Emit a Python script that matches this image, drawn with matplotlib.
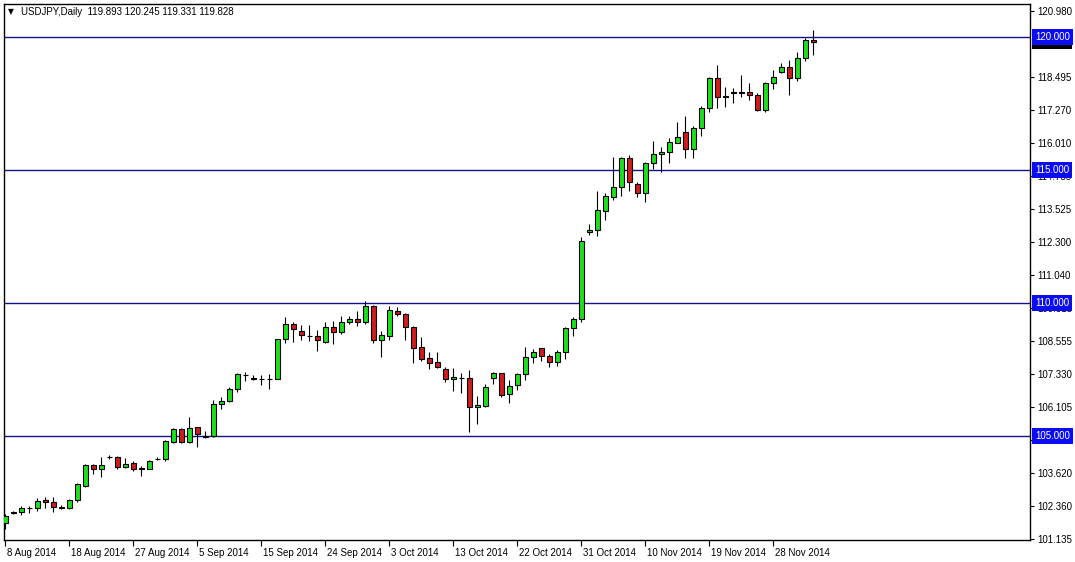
"""MT4-style daily candlestick chart of USDJPY with round-number levels."""

import matplotlib

matplotlib.use("Agg")
import matplotlib.pyplot as plt
from matplotlib.patches import Rectangle
from matplotlib.transforms import ScaledTranslation

symbol_title = "USDJPY,Daily"
last_ohlc = "119.893 120.245 119.331 119.828"

# daily OHLC, one bar per trading day (Sunday bars included)
opens = [
    101.74, 102.12, 102.13, 102.30, 102.28, 102.59, 102.51, 102.31, 102.28, 102.59,
    103.13, 103.90, 103.75, 104.20, 104.20, 103.85, 103.97, 103.77, 103.77, 104.12,
    104.15, 104.79, 105.25, 104.79, 105.33, 104.96, 105.00, 106.19, 106.33, 106.75,
    107.29, 107.16, 107.13, 107.15, 107.16, 108.63, 109.20, 108.96, 108.75, 108.75,
    108.55, 109.11, 108.90, 109.27, 109.39, 109.30, 109.89, 108.61, 108.77, 109.69,
    109.57, 109.09, 108.33, 107.92, 107.78, 107.51, 107.13, 107.19, 107.17, 106.08,
    106.14, 107.17, 107.36, 106.57, 106.90, 107.32, 107.96, 108.30, 108.01, 107.77,
    108.15, 109.05, 109.39, 112.66, 112.74, 113.47, 114.00, 114.37, 115.44, 114.47,
    114.12, 115.25, 115.59, 115.66, 116.03, 116.41, 115.78, 116.57, 117.32, 118.45,
    117.74, 117.89, 117.88, 117.93, 117.81, 117.26, 118.26, 118.70, 118.86, 118.45,
    119.20, 119.893,
]
highs = [
    102.05, 102.18, 102.37, 102.37, 102.66, 102.70, 102.70, 102.42, 102.63, 103.22,
    103.95, 103.93, 104.20, 104.27, 104.25, 104.16, 104.06, 103.87, 104.10, 104.20,
    104.85, 105.29, 105.29, 105.70, 105.35, 105.20, 106.35, 106.45, 106.85, 107.36,
    107.41, 107.29, 107.29, 107.33, 108.66, 109.49, 109.27, 109.17, 109.17, 108.99,
    109.30, 109.34, 109.51, 109.51, 109.71, 110.08, 109.94, 108.95, 109.90, 109.84,
    109.64, 109.14, 108.71, 108.17, 108.16, 107.58, 107.54, 107.38, 107.48, 106.50,
    106.96, 107.42, 107.38, 107.11, 107.36, 108.33, 108.27, 108.32, 108.08, 108.23,
    109.11, 109.46, 112.47, 112.97, 114.22, 114.15, 115.50, 115.50, 115.56, 114.56,
    115.29, 116.10, 115.86, 116.19, 116.82, 117.03, 116.65, 117.41, 118.48, 118.95,
    118.11, 118.07, 118.57, 118.26, 117.88, 118.32, 118.76, 119.03, 119.13, 119.42,
    119.95, 120.245,
]
lows = [
    101.49, 102.07, 102.03, 102.09, 102.19, 102.28, 102.13, 102.24, 102.25, 102.51,
    103.09, 103.57, 103.47, 104.12, 103.75, 103.81, 103.68, 103.51, 103.75, 104.10,
    104.07, 104.75, 104.72, 104.75, 104.60, 104.91, 104.97, 106.00, 106.28, 106.67,
    107.08, 107.11, 106.92, 106.78, 107.13, 108.48, 108.55, 108.61, 108.58, 108.21,
    108.48, 108.45, 108.83, 109.20, 109.14, 109.20, 108.51, 107.98, 108.61, 109.51,
    108.61, 107.73, 107.81, 107.51, 107.54, 107.04, 106.70, 106.60, 105.16, 105.45,
    106.10, 106.96, 106.48, 106.23, 106.73, 107.11, 107.76, 107.83, 107.58, 107.64,
    107.90, 108.77, 109.30, 112.56, 112.53, 113.12, 113.87, 114.02, 114.22, 114.00,
    113.81, 115.03, 114.93, 115.28, 116.00, 115.44, 115.44, 116.28, 117.19, 117.32,
    117.36, 117.53, 117.76, 117.63, 117.23, 117.19, 118.05, 118.63, 117.82, 118.36,
    119.11, 119.331,
]
closes = [
    101.99, 102.16, 102.28, 102.31, 102.57, 102.51, 102.32, 102.33, 102.59, 103.18,
    103.90, 103.75, 103.90, 104.22, 103.85, 103.93, 103.75, 103.80, 104.05, 104.15,
    104.80, 105.25, 104.79, 105.31, 105.06, 104.99, 106.20, 106.30, 106.75, 107.32,
    107.30, 107.18, 107.16, 107.16, 108.63, 109.20, 109.01, 108.78, 108.77, 108.60,
    109.11, 108.90, 109.27, 109.39, 109.27, 109.89, 108.61, 108.78, 109.74, 109.57,
    109.09, 108.32, 107.91, 107.76, 107.61, 107.13, 107.21, 107.17, 106.08, 106.17,
    106.83, 107.36, 106.54, 106.89, 107.32, 107.96, 108.15, 108.01, 107.80, 108.15,
    109.05, 109.39, 112.33, 112.74, 113.50, 114.02, 114.37, 115.44, 114.56, 114.12,
    115.25, 115.59, 115.67, 116.04, 116.23, 115.78, 116.57, 117.32, 118.45, 117.76,
    117.77, 117.92, 117.95, 117.81, 117.26, 118.26, 118.51, 118.86, 118.45, 119.20,
    119.89, 119.828,
]

date_labels = [
    "8 Aug 2014", "18 Aug 2014", "27 Aug 2014", "5 Sep 2014", "15 Sep 2014",
    "24 Sep 2014", "3 Oct 2014", "13 Oct 2014", "22 Oct 2014", "31 Oct 2014",
    "10 Nov 2014", "19 Nov 2014", "28 Nov 2014",
]
date_label_step = 8  # bars between date labels

price_ticks = [
    120.980, 118.495, 117.270, 116.010, 114.785, 113.525, 112.300, 111.040,
    109.815, 108.555, 107.330, 106.105, 104.845, 103.620, 102.360, 101.135,
]
level_lines = [120.0, 115.0, 110.0, 105.0]
bid_price = 119.828

BULL = "#1fdf1f"
BEAR = "#d01c1c"
LEVEL = "#12128c"
LABEL_BG = "#0c0cf2"
FONT = ["Liberation Sans", "DejaVu Sans"]

W, H = 1075, 562
fig = plt.figure(figsize=(W / 100, H / 100), dpi=100)
ax = fig.add_axes([4 / W, (H - 540) / H, (1030 - 4) / W, (540 - 4) / H])

px_per_bar = 8.0
ax.set_xlim((4 - 5.3) / px_per_bar, (1030 - 5.3) / px_per_bar)
ax.set_ylim(120 - 503 / 26.6, 120 + 33 / 26.6)

for lv in level_lines:
    ax.axhline(lv, color=LEVEL, lw=1.0, zorder=1)

body_w = 0.6
for i, (o, h, l, c) in enumerate(zip(opens, highs, lows, closes)):
    ax.vlines(i, l, h, color="black", lw=0.8, zorder=2)
    bottom = min(o, c)
    height = max(abs(c - o), 0.005)
    color = BULL if c >= o else BEAR
    ax.add_patch(Rectangle((i - body_w / 2, bottom), body_w, height,
                           facecolor=color, edgecolor="black", lw=0.8, zorder=3))

# right price scale
ax.yaxis.tick_right()
ax.set_yticks(price_ticks)
ax.set_yticklabels([f"{p:.3f}" for p in price_ticks], fontfamily=FONT)
ax.tick_params(axis="y", direction="out", length=3, width=0.8, labelsize=7,
               pad=2, colors="black")

# date scale
n_labels = len(date_labels)
ax.set_xticks([k * date_label_step for k in range(n_labels)])
ax.set_xticklabels(date_labels, ha="left", fontfamily=FONT)
ax.tick_params(axis="x", direction="out", length=4, width=0.8, labelsize=7, pad=2)
shift = ScaledTranslation(2 / 100, 0, fig.dpi_scale_trans)
for lab in ax.get_xticklabels():
    lab.set_transform(lab.get_transform() + shift)

for sp in ax.spines.values():
    sp.set_linewidth(1.0)
    sp.set_color("black")

# price labels on the scale: bid (black) below the level labels (blue)
ax.annotate(f"{bid_price:.3f}", xy=(1, bid_price), xycoords=("axes fraction", "data"),
            xytext=(5, 0), textcoords="offset pixels", ha="left", va="center",
            color="white", fontsize=7, fontfamily=FONT, annotation_clip=False,
            bbox=dict(boxstyle="square,pad=0.3", fc="black", ec="none"), zorder=5)
for lv in level_lines:
    ax.annotate(f"{lv:.3f}", xy=(1, lv), xycoords=("axes fraction", "data"),
                xytext=(5, 0), textcoords="offset pixels", ha="left", va="center",
                color="white", fontsize=7, fontfamily=FONT, annotation_clip=False,
                bbox=dict(boxstyle="square,pad=0.3", fc=LABEL_BG, ec="none"), zorder=6)

fig.text(8 / W, 1 - 12 / H, "\u25bc", fontsize=5.5, va="center", ha="left",
         fontfamily=["DejaVu Sans"])
fig.text(21 / W, 1 - 12 / H, f"{symbol_title}  {last_ohlc}", fontsize=7,
         va="center", ha="left", fontfamily=FONT)

fig.savefig("out.png", dpi=100)
